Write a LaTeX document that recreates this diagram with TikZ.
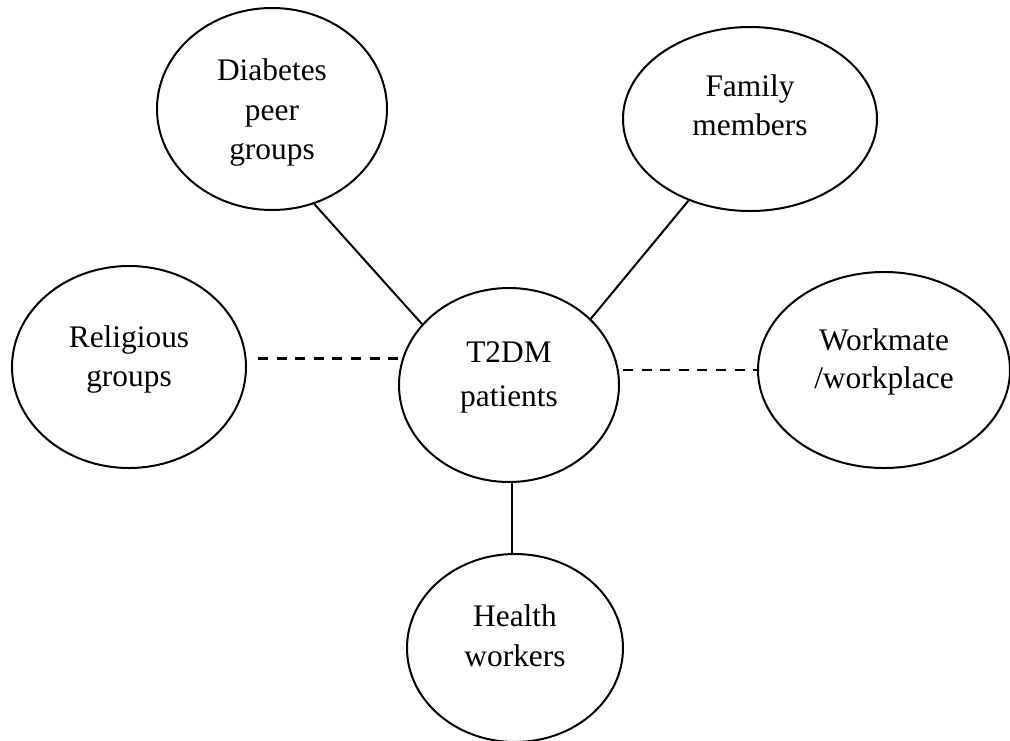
\documentclass[tikz,border=0pt]{standalone}
\usepackage{fontspec}
\setmainfont{Liberation Serif}
\usetikzlibrary{shapes.geometric}
\begin{document}
\begin{tikzpicture}[x=1pt,y=-1pt,
  bubble/.style={draw, ellipse, line width=2pt, inner sep=0pt, align=center, text depth=10pt},
  solidlink/.style={line width=2pt},
  dashlink/.style={line width=2.4pt, dash pattern=on 10pt off 8.6pt}]
\useasboundingbox (0,0) rectangle (1010,740);
\node[bubble, font=\fontsize{31.4}{39.3}\selectfont, minimum width=230pt, minimum height=202pt, text height=110.6pt] (dia) at (272,109) {Diabetes\\peer\\groups};
\node[bubble, font=\fontsize{31.4}{39}\selectfont, minimum width=254pt, minimum height=184pt, text height=42pt] (fam) at (750,119) {Family\\members};
\node[bubble, font=\fontsize{31.4}{39.4}\selectfont, minimum width=234pt, minimum height=202pt, text height=49.4pt] (rel) at (129,367) {Religious\\groups};
\node[bubble, font=\fontsize{31.4}{44}\selectfont, minimum width=220pt, minimum height=194pt, text height=52.6pt] (t2dm) at (509,385) {T2DM\\patients};
\node[bubble, font=\fontsize{31.4}{38}\selectfont, minimum width=252pt, minimum height=196pt, text height=46pt] (wm) at (884,370) {Workmate\\/workplace};
\node[bubble, font=\fontsize{31.4}{40}\selectfont, minimum width=216pt, minimum height=188pt, text height=47.4pt] (hw) at (515,648) {Health\\workers};
\draw[solidlink] (dia.-66.9) -- (t2dm.145.7);
\draw[solidlink] (fam.-127.4) -- (t2dm.39.3);
\draw[dashlink] ([xshift=11pt]rel.east |- t2dm.166) -- (t2dm.166);
\draw[dashlink] ([xshift=3pt]t2dm.east |- wm.west) -- (wm.west);
\draw[solidlink] (t2dm.-88) -- (t2dm.-88 |- hw.north);
\end{tikzpicture}
\end{document}
